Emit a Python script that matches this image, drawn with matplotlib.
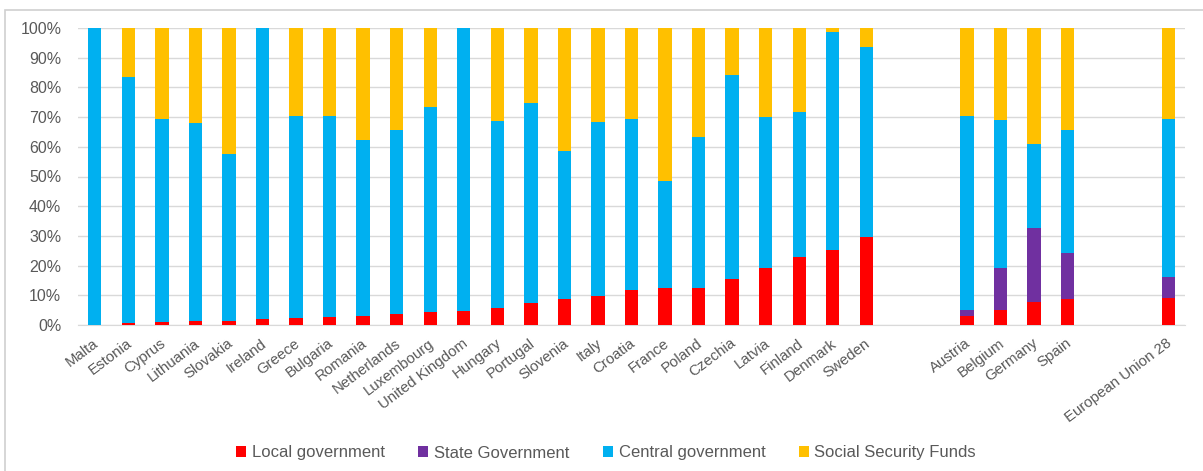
import numpy as np
import matplotlib.pyplot as plt
from matplotlib.patches import Rectangle
from matplotlib.transforms import ScaledTranslation

plt.rcParams['font.family'] = ['Liberation Sans', 'DejaVu Sans']

# country groups (unitary states / federal states / EU aggregate)
unitary = ["Malta", "Estonia", "Cyprus", "Lithuania", "Slovakia", "Ireland", "Greece",
           "Bulgaria", "Romania", "Netherlands", "Luxembourg", "United Kingdom", "Hungary",
           "Portugal", "Slovenia", "Italy", "Croatia", "France", "Poland", "Czechia",
           "Latvia", "Finland", "Denmark", "Sweden"]
federal = ["Austria", "Belgium", "Germany", "Spain"]
eu = ["European Union 28"]
countries = unitary + federal + eu

# shares in percent
local = [0, 0.6, 0.9, 1.2, 1.5, 1.9, 2.2, 2.7, 3.0, 3.7, 4.5, 4.7, 5.6, 7.4, 8.8, 9.8,
         11.7, 12.3, 12.3, 15.4, 19.3, 22.9, 25.3, 29.5,
         3.1, 5.2, 7.9, 8.8,
         9.2]
state = [0] * 24 + [2.1, 13.9, 24.7, 15.3] + [6.9]
central = [100, 82.8, 68.6, 66.7, 56.1, 98.1, 68.3, 67.8, 59.4, 61.9, 69.0, 95.3, 63.1,
           67.4, 49.8, 58.6, 57.8, 36.3, 50.9, 68.7, 50.8, 48.8, 73.5, 64.2,
           65.3, 50.0, 28.3, 41.5,
           53.2]
social = [0, 16.6, 30.5, 32.1, 42.4, 0, 29.5, 29.5, 37.6, 34.4, 26.5, 0, 31.3, 25.2,
          41.4, 31.6, 30.5, 51.4, 36.8, 15.9, 29.9, 28.3, 1.2, 6.3,
          29.5, 30.9, 39.1, 34.4,
          30.7]

# x positions: two empty slots between groups
pos = []
x = 0
for grp in [unitary, federal, eu]:
    for _ in grp:
        pos.append(x)
        x += 1
    x += 2
pos = np.array(pos)

fig = plt.figure(figsize=(12.03, 4.71), dpi=100)
fig.patches.append(Rectangle((5 / 1203, -0.01), 1.2, 1 - 10 / 471 + 0.01, transform=fig.transFigure,
                             fill=False, edgecolor='#D0D0D0', lw=1.2))
ax = fig.add_axes([78 / 1203, 146 / 471, 1107 / 1203, 297 / 471])

w = 0.4
local = np.array(local)
state = np.array(state)
central = np.array(central)
social = np.array(social)
ax.bar(pos, local, w, color='#FF0000', label='Local government', zorder=3)
ax.bar(pos, state, w, bottom=local, color='#7030A0', label='State Government', zorder=3)
ax.bar(pos, central, w, bottom=local + state, color='#00B0F0', label='Central government', zorder=3)
ax.bar(pos, social, w, bottom=local + state + central, color='#FFC000',
       label='Social Security Funds', zorder=3)

ax.set_xlim(-0.5, pos[-1] + 0.5)
ax.set_ylim(0, 100)
ax.set_yticks(range(0, 101, 10))
ax.set_yticklabels([f"{v}%" for v in range(0, 101, 10)], fontsize=11.5, color='#595959')
ax.yaxis.grid(True, color='#D9D9D9', lw=1, zorder=0)
ax.set_xticks(pos)
ax.set_xticklabels(countries, rotation=37, ha='right', rotation_mode='anchor',
                   fontsize=10.8, color='#595959')
ax.tick_params(axis='both', length=0)
ax.tick_params(axis='y', pad=12)
ax.tick_params(axis='x', pad=8)
shift = ScaledTranslation(-2 / 100, 0, fig.dpi_scale_trans)
for lab in ax.get_xticklabels():
    lab.set_transform(lab.get_transform() + shift)
for s in ['top', 'right', 'left']:
    ax.spines[s].set_visible(False)
ax.spines['bottom'].set_color('#D9D9D9')

fig.legend(loc='center', bbox_to_anchor=(606 / 1203, 1 - 453 / 471), ncol=4, frameon=False,
           fontsize=12, handlelength=0.6, handleheight=0.6, handletextpad=0.35,
           columnspacing=2.0, labelcolor='#595959')

fig.savefig('out.png', dpi=100)
